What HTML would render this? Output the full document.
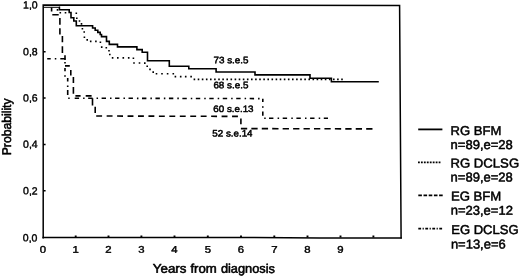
<!DOCTYPE html>
<html>
<head>
<meta charset="utf-8">
<title>Probability by years from diagnosis</title>
<style>
html,body{margin:0;padding:0;background:#fff;}
svg{display:block;}
text{font-family:"Liberation Sans",Arial,Helvetica,sans-serif;fill:#000;stroke:#000;stroke-width:0.4px;stroke-linejoin:round;text-rendering:geometricPrecision;}
.tk{font-size:10.4px;}
.xk{font-size:9.7px;}
.an{font-size:9.3px;stroke-width:0.5px;}
.lg{font-size:12.8px;stroke-width:0.5px;}
.ax{font-size:12.7px;stroke-width:0.55px;}
.c{fill:none;stroke:#000;stroke-width:1.6;stroke-linejoin:miter;}
</style>
</head>
<body>
<svg width="520" height="278" viewBox="0 0 520 278">
<rect width="520" height="278" fill="#fff"/>
<!-- frame -->
<path d="M43.2 238.4 L43.2 5.05 L399.6 5.45 L401.1 238.6" fill="none" stroke="#000" stroke-width="1.5"/>
<path d="M42.4 237.6 L250 237.55 L320 237.95 L401.9 237.95" fill="none" stroke="#000" stroke-width="1.5"/>
<!-- ticks -->
<g stroke="#000" stroke-width="1.5">
<path d="M43 51.7h2.6M43 98h2.6M43 144.4h2.6M43 190.7h2.6"/>
<path style="stroke-width:1.9" d="M75.7 237.5v-1.9M108.5 237.5v-1.9M141.4 237.5v-1.9M174.5 237.5v-1.9M207.8 237.5v-1.9M241.0 237.5v-1.9M274.3 237.5v-1.9M307.5 237.5v-1.9M340.5 237.5v-1.9M373.4 237.5v-1.9"/>
</g>
<!-- y tick labels -->
<text class="tk" text-anchor="end" transform="translate(37.7 8.6) rotate(0.1)" textLength="14.6" lengthAdjust="spacingAndGlyphs">1,0</text>
<text class="tk" text-anchor="end" transform="translate(37.7 55.2) rotate(0.1)" textLength="14.6" lengthAdjust="spacingAndGlyphs">0,8</text>
<text class="tk" text-anchor="end" transform="translate(37.7 101.5) rotate(0.1)" textLength="14.6" lengthAdjust="spacingAndGlyphs">0,6</text>
<text class="tk" text-anchor="end" transform="translate(37.7 147.8) rotate(0.1)" textLength="14.6" lengthAdjust="spacingAndGlyphs">0,4</text>
<text class="tk" text-anchor="end" transform="translate(37.7 194.4) rotate(0.1)" textLength="14.6" lengthAdjust="spacingAndGlyphs">0,2</text>
<text class="tk" text-anchor="end" transform="translate(37.4 241.4) rotate(0.1)" textLength="14.6" lengthAdjust="spacingAndGlyphs">0,0</text>
<!-- x tick labels -->
<text class="xk" text-anchor="middle" transform="translate(43.0 252.7) rotate(0.1)" textLength="6.3" lengthAdjust="spacingAndGlyphs">0</text>
<text class="xk" text-anchor="middle" transform="translate(75.7 252.7) rotate(0.1)" textLength="6.3" lengthAdjust="spacingAndGlyphs">1</text>
<text class="xk" text-anchor="middle" transform="translate(108.5 252.7) rotate(0.1)" textLength="6.3" lengthAdjust="spacingAndGlyphs">2</text>
<text class="xk" text-anchor="middle" transform="translate(141.4 252.7) rotate(0.1)" textLength="6.3" lengthAdjust="spacingAndGlyphs">3</text>
<text class="xk" text-anchor="middle" transform="translate(174.5 252.7) rotate(0.1)" textLength="6.3" lengthAdjust="spacingAndGlyphs">4</text>
<text class="xk" text-anchor="middle" transform="translate(207.8 252.7) rotate(0.1)" textLength="6.3" lengthAdjust="spacingAndGlyphs">5</text>
<text class="xk" text-anchor="middle" transform="translate(241.0 252.7) rotate(0.1)" textLength="6.3" lengthAdjust="spacingAndGlyphs">6</text>
<text class="xk" text-anchor="middle" transform="translate(274.3 252.7) rotate(0.1)" textLength="6.3" lengthAdjust="spacingAndGlyphs">7</text>
<text class="xk" text-anchor="middle" transform="translate(307.5 252.7) rotate(0.1)" textLength="6.3" lengthAdjust="spacingAndGlyphs">8</text>
<text class="xk" text-anchor="middle" transform="translate(340.5 252.7) rotate(0.1)" textLength="6.3" lengthAdjust="spacingAndGlyphs">9</text>
<!-- axis titles -->
<text class="ax" transform="translate(152.8 272.7) rotate(0.1)" textLength="33.6" lengthAdjust="spacingAndGlyphs">Years</text>
<text class="ax" transform="translate(190.4 272.7) rotate(0.1)" textLength="26.4" lengthAdjust="spacingAndGlyphs">from</text>
<text class="ax" transform="translate(220.9 272.8) rotate(0.1)" textLength="54.0" lengthAdjust="spacingAndGlyphs">diagnosis</text>
<text class="ax" transform="translate(10.8 155.3) rotate(-90)" textLength="56.9" lengthAdjust="spacingAndGlyphs">Probability</text>
<!-- RG DCLSG dotted -->
<path class="c" d="M56.7 9.9h1.6M59.5 12.7h1.6M64.7 12.7h1.6M75.5 13.2h1.6M76.0 18.3h1.6M78.7 21.0h1.6M80.7 23.9h1.6M81.6 28.8h1.6M83.4 32.0h1.6M83.6 37.2h1.6M86.4 39.9h1.6M89.9 41.4h1.6M95.1 41.4h1.6M99.6 42.3h1.6M100.9 47.1h1.6M105.5 47.7h1.6M108.2 50.7h1.6M109.0 54.5h1.6M111.8 57.9h1.6M117.0 57.9h1.6M122.5 57.9h1.6M127.9 57.9h1.6M132.6 58.2h1.6M133.2 63.0h1.6M138.7 63.0h1.6M144.0 63.1h1.6M146.4 66.2h1.6M149.2 69.4h1.6M152.4 72.1h1.6M155.7 73.7h1.6M161.2 73.7h1.6M166.8 73.7h1.6M172.5 73.8h1.6M174.6 76.6h1.6M179.9 76.6h1.6M184.9 76.6h1.6M190.3 76.6h1.6"/>
<path class="c" stroke-dasharray="1.6 2.5" d="M193.6 79.4 H343.6"/>
<!-- EG DCLSG dash-dot -->
<path class="c" d="M47.2 58.7H50.7M54.8 58.7H56.3M60.3 58.7H65.4M65 62V63.5M65 67.9V71.3M65 75.3V76.8M67.7 77.9V81.5M67.7 85.6V87.1M67.7 90V95M68.2 98.2H69.7"/>
<path class="c" stroke-dasharray="4.4 4 1.5 3.56" d="M74.7 98.2 L262.8 98.6"/>
<path class="c" d="M262.8 98.8V102M262.8 106.3V107.8M262.8 111.4V115.8M264.2 118.3H265.7"/>
<path class="c" stroke-dasharray="4.4 4.2 1.5 3.6" d="M269 118.3 H328"/>
<!-- EG BFM dashed -->
<path class="c" d="M51.6 7.4V11.5M52.3 14.8H58.7M59.9 18V24.7M59.9 28.3V34.5M62.4 36V42.3M62.4 46.3V53M65 55.2V60M65 65.9H69.8M70.8 69.9V75.6M73.4 77.1V83.1M73.4 87V93.7M75.4 95.9H80.6M85.7 95.9H91.6M92.5 98.2V105.4M95.2 106.7V113.1M240.9 118.5V124.3"/>
<path class="c" stroke-dasharray="5.9 4.55" d="M96.2 116.0 L238.4 116.4"/>
<path class="c" stroke-dasharray="6.3 4.14" d="M240.9 128.6 L372.8 128.9"/>
<!-- RG BFM solid -->
<path class="c" style="stroke-width:1" d="M43.6 7.3 H59.4"/>
<path class="c" d="M58.9 7.3 H59.4 V9.8 H69.2 V12.5 H71 V17.8 H73.8 V21 H76.3 V25.8 H92.6 V28 H95.2 V30.2 H97.8 V32.4 H100.2 V34.5 H101.5 V36.6 H106.5 V41.4 H109.3 V44.4 H117.5 V46.9 H136.9 V49.6 H142.2 V52.3 H147.5 V60.8 H169.3 V66.2 H188.8 V68.8 H216.1 V72 H255 V74.9 H310 V78.3 H331.4 V81.8 H378.8"/>
<!-- annotations -->
<text class="an" transform="translate(213.5 63.3) rotate(0.1)" textLength="35" lengthAdjust="spacingAndGlyphs">73 s.e.5</text>
<text class="an" transform="translate(213.4 88.2) rotate(0.1)" textLength="35" lengthAdjust="spacingAndGlyphs">68 s.e.5</text>
<text class="an" transform="translate(213.3 111.9) rotate(0.1)" textLength="40.2" lengthAdjust="spacingAndGlyphs">60 s.e.13</text>
<text class="an" transform="translate(212.3 136.5) rotate(0.1)" textLength="40.2" lengthAdjust="spacingAndGlyphs">52 s.e.14</text>
<!-- legend -->
<g class="c" style="stroke-width:1.8">
<path d="M418.2 129.4 H442.4"/>
<path d="M418 162.4 H440.6" stroke-dasharray="1.8 1.15"/>
<path d="M418.3 195.3 H443.2" stroke-dasharray="3.6 1.6"/>
<path d="M418.3 228.7 H443.2" stroke-dasharray="2.8 1.5 1.2 1.5"/>
</g>
<text class="lg" transform="translate(450.5 135) rotate(0.1)" textLength="50.8" lengthAdjust="spacingAndGlyphs">RG BFM</text>
<text class="lg" transform="translate(450.6 149.0) rotate(0.1)" textLength="62.2" lengthAdjust="spacingAndGlyphs">n=89,e=28</text>
<text class="lg" transform="translate(450.5 167.5) rotate(0.1)" textLength="68.6" lengthAdjust="spacingAndGlyphs">RG DCLSG</text>
<text class="lg" transform="translate(450.6 181.4) rotate(0.1)" textLength="62.2" lengthAdjust="spacingAndGlyphs">n=89,e=28</text>
<text class="lg" transform="translate(450.9 200.4) rotate(0.1)" textLength="50.4" lengthAdjust="spacingAndGlyphs">EG BFM</text>
<text class="lg" transform="translate(450.7 214.6) rotate(0.1)" textLength="62.2" lengthAdjust="spacingAndGlyphs">n=23,e=12</text>
<text class="lg" transform="translate(451.2 233.9) rotate(0.1)" textLength="67.4" lengthAdjust="spacingAndGlyphs">EG DCLSG</text>
<text class="lg" transform="translate(450.9 248.4) rotate(0.1)" textLength="54.8" lengthAdjust="spacingAndGlyphs">n=13,e=6</text>
</svg>
</body>
</html>
